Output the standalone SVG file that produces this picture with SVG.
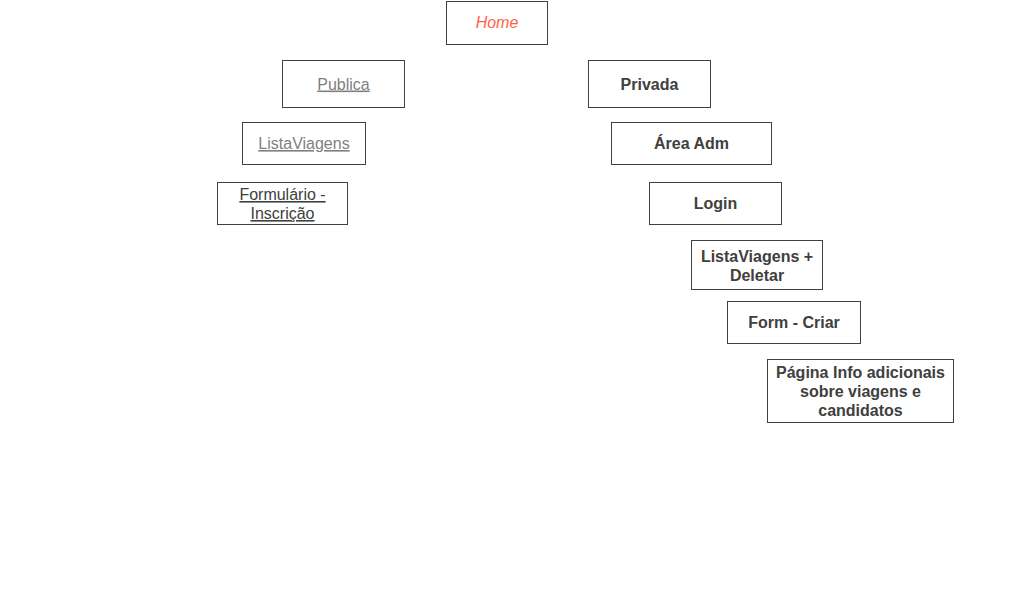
<svg xmlns="http://www.w3.org/2000/svg" width="1024" height="600" viewBox="0 0 1024 600">
<style>
.box{fill:#ffffff;stroke:#404040;stroke-width:1}
.t{font-family:"Liberation Sans",Arial,sans-serif;font-size:16px;text-anchor:middle;fill:#404040}
.b{font-weight:bold}
.link{fill:#808080;text-decoration:underline}
.dlink{fill:#404040;text-decoration:underline}
.home{fill:#ff6347;font-style:italic}
</style>
<rect width="1024" height="600" fill="#ffffff"/>
<g id="connectors"></g>
<g id="home"><rect class="box" x="446.5" y="1.5" width="101" height="43"/><text class="t home" x="497" y="28">Home</text></g>
<g id="publica"><rect class="box" x="282.5" y="60.5" width="122" height="47"/><text class="t link" x="343.5" y="89.5">Publica</text></g>
<g id="listaviagens"><rect class="box" x="242.5" y="122.5" width="123" height="42"/><text class="t link" x="304" y="149">ListaViagens</text></g>
<g id="formulario"><rect class="box" x="217.5" y="182.5" width="130" height="42"/><text class="t dlink" x="282.5" y="200">Formulário - </text><text class="t dlink" x="282.5" y="219">Inscrição</text></g>
<g id="privada"><rect class="box" x="588.5" y="60.5" width="122" height="47"/><text class="t b" x="649.5" y="89.5">Privada</text></g>
<g id="areaadm"><rect class="box" x="611.5" y="122.5" width="160" height="42"/><text class="t b" x="691.5" y="149">Área Adm</text></g>
<g id="login"><rect class="box" x="649.5" y="182.5" width="132" height="42"/><text class="t b" x="715.5" y="209">Login</text></g>
<g id="listadeletar"><rect class="box" x="691.5" y="240.5" width="131" height="49"/><text class="t b" x="757" y="262">ListaViagens +</text><text class="t b" x="757" y="281">Deletar</text></g>
<g id="formcriar"><rect class="box" x="727.5" y="301.5" width="133" height="42"/><text class="t b" x="794" y="328">Form - Criar</text></g>
<g id="pagina"><rect class="box" x="767.5" y="359.5" width="186" height="63"/><text class="t b" x="860.5" y="378">Página Info adicionais</text><text class="t b" x="860.5" y="397">sobre viagens e</text><text class="t b" x="860.5" y="416">candidatos</text></g>
</svg>
